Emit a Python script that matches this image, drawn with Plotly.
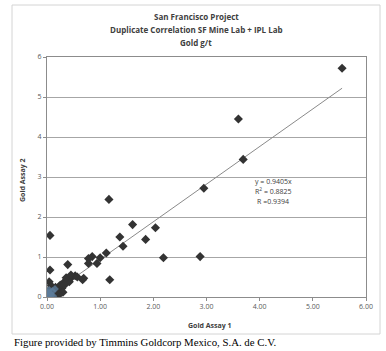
import plotly.graph_objects as go

# Data
assay1 = [5.55, 3.60, 3.69, 2.95, 2.88, 1.165, 0.056, 1.61, 2.04, 1.37, 1.855, 1.43, 1.115, 2.19,
          0.85, 0.78, 1.00, 0.94, 0.78, 0.39, 0.056, 1.18, 0.04, 0.67, 0.69, 0.53, 0.47, 0.40,
          0.35, 0.30, 0.25, 0.42, 0.36, 0.28, 0.22, 0.20, 0.18, 0.15, 0.12, 0.10, 0.08, 0.05,
          0.03, 0.02, 0.06, 0.14, 0.25, 0.30, 0.22, 0.08, 0.16, 0.33, 0.45, 0.57]
assay2 = [5.72, 4.45, 3.44, 2.72, 1.01, 2.44, 1.54, 1.81, 1.73, 1.50, 1.44, 1.27, 1.10, 0.98,
          1.01, 0.96, 0.98, 0.84, 0.84, 0.81, 0.675, 0.43, 0.38, 0.43, 0.47, 0.53, 0.50, 0.46,
          0.40, 0.34, 0.30, 0.38, 0.48, 0.22, 0.25, 0.18, 0.12, 0.15, 0.10, 0.05, 0.12, 0.03,
          0.08, 0.02, 0.20, 0.06, 0.10, 0.12, 0.05, 0.28, 0.24, 0.30, 0.55, 0.50]
blue_a1 = [0.02, 0.05, 0.08, 0.04, 0.10, 0.12, 0.03, 0.07, 0.15, 0.01]
blue_a2 = [0.05, 0.10, 0.04, 0.18, 0.15, 0.02, 0.01, 0.08, 0.20, 0.12]
slope = 0.9405
trend_x = [0.0, 5.55]
x_ticks = [0, 1, 2, 3, 4, 5, 6]
x_tick_labels = ["0.00", "1.00", "2.00", "3.00", "4.00", "5.00", "6.00"]
y_ticks = [0, 1, 2, 3, 4, 5, 6]
title_lines = ["San Francisco Project", "Duplicate Correlation SF Mine Lab + IPL Lab", "Gold g/t"]
eq_lines = ["y = 0.9405x", "R<sup>2</sup> = 0.8825", "R =0.9394"]
caption = "Figure provided by Timmins Goldcorp Mexico, S.A. de C.V."

W, H = 386, 351
L, R, T, B = 47, 20, 57, 54
pw, ph = W - L - R, H - T - B

def px(xp):
    return (xp - L) / pw

def py(yp):
    return (H - B - yp) / ph

fig = go.Figure()
fig.add_trace(go.Scatter(x=trend_x, y=[slope * v for v in trend_x], mode="lines",
                         line=dict(color="#8a8a8a", width=1), hoverinfo="skip"))
fig.add_trace(go.Scatter(x=assay1, y=assay2, mode="markers",
                         marker=dict(symbol="diamond", size=7, color="#333333")))
fig.add_trace(go.Scatter(x=blue_a1, y=blue_a2, mode="markers",
                         marker=dict(symbol="diamond", size=6, color="#5d7c9a", opacity=0.8)))

font_t = "Open Sans, Liberation Sans, sans-serif"
anns = []
for i, t in enumerate(title_lines):
    anns.append(dict(text="<b>%s</b>" % t, x=px(196), y=py(17 + 12.5 * i), xref="paper", yref="paper",
                     showarrow=False, xanchor="center", yanchor="middle",
                     font=dict(family=font_t, size=8, color="#404040")))
for i, t in enumerate(eq_lines):
    anns.append(dict(text=t, x=px(273), y=py(181 + 10 * i), xref="paper", yref="paper",
                     showarrow=False, xanchor="center", yanchor="middle",
                     font=dict(family=font_t, size=7, color="#404040")))
anns.append(dict(text=caption, x=px(12), y=py(342), xref="paper", yref="paper", showarrow=False,
                 xanchor="left", yanchor="middle",
                 font=dict(family="Liberation Serif, Times New Roman, serif", size=10.8, color="#000000")))
anns.append(dict(text="<b>Gold Assay 1</b>", x=px(210), y=py(325), xref="paper", yref="paper",
                 showarrow=False, xanchor="center", yanchor="middle",
                 font=dict(family=font_t, size=7, color="#404040")))
anns.append(dict(text="<b>Gold Assay 2</b>", x=px(22), y=py(180), xref="paper", yref="paper",
                 showarrow=False, xanchor="center", yanchor="middle", textangle=-90,
                 font=dict(family=font_t, size=7, color="#404040")))

shapes = [dict(type="rect", xref="paper", yref="paper", x0=px(12), x1=px(380), y0=py(5), y1=py(334),
               line=dict(color="#d4d4d4", width=1), fillcolor="white", layer="below")]

fig.update_layout(
    width=W, height=H, margin=dict(l=L, r=R, t=T, b=B),
    paper_bgcolor="white", plot_bgcolor="#eeebe2", showlegend=False,
    annotations=anns, shapes=shapes,
    xaxis=dict(range=[0, 6], tickvals=x_ticks, ticktext=x_tick_labels, showgrid=False,
               zeroline=False, showline=True, linecolor="#8c8c8c", mirror=True,
               ticks="outside", ticklen=3, tickcolor="#8c8c8c",
               tickfont=dict(family=font_t, size=7, color="#595959")),
    yaxis=dict(range=[0, 6], tickvals=y_ticks, showgrid=True, gridcolor="#a6a6a6", gridwidth=1,
               zeroline=False, showline=True, linecolor="#8c8c8c", mirror=True,
               ticks="outside", ticklen=3, tickcolor="#8c8c8c",
               tickfont=dict(family=font_t, size=7, color="#595959")),
)
fig.write_html("out.html")
